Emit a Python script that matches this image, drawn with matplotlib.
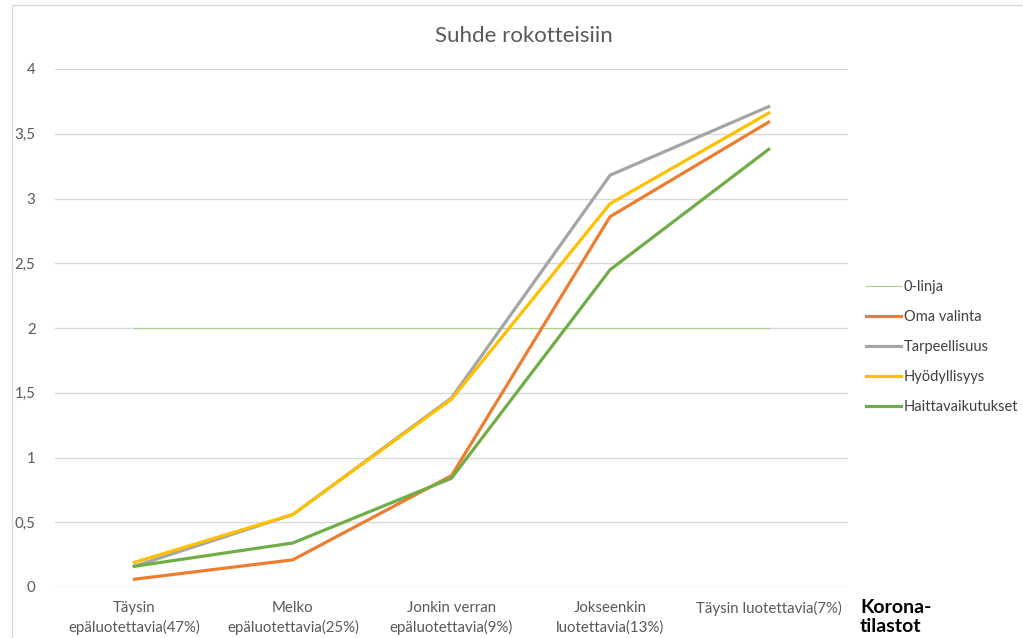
import matplotlib.pyplot as plt
from matplotlib.patches import Rectangle

plt.rcParams['font.family'] = ['Lato', 'DejaVu Sans']

categories = ['Täysin\nepäluotettavia(47%)', 'Melko\nepäluotettavia(25%)',
              'Jonkin verran\nepäluotettavia(9%)', 'Jokseenkin\nluotettavia(13%)',
              'Täysin luotettavia(7%)']
zero_line = [2, 2, 2, 2, 2]
oma_valinta = [0.06, 0.21, 0.86, 2.86, 3.59]
tarpeellisuus = [0.16, 0.56, 1.46, 3.18, 3.71]
hyodyllisyys = [0.19, 0.56, 1.45, 2.96, 3.66]
haittavaikutukset = [0.16, 0.34, 0.84, 2.45, 3.38]
y_ticks = [0, 0.5, 1, 1.5, 2, 2.5, 3, 3.5, 4]
y_labels = ['0', '0,5', '1', '1,5', '2', '2,5', '3', '3,5', '4']

fig = plt.figure(figsize=(10.23, 6.38), dpi=100)
ax = fig.add_axes([55 / 1023, 51 / 638, 793 / 1023, 518 / 638])

# outer chart border
fig.patches.append(Rectangle((12 / 1023, -0.01), 1.0, (633 / 638) + 0.01,
                             transform=fig.transFigure, fill=False,
                             edgecolor='#D9D9D9', linewidth=1))

x = range(len(categories))
ax.plot(x, zero_line, color='#A9D18E', linewidth=0.8, label='0-linja')
ax.plot(x, oma_valinta, color='#ED7D31', linewidth=2.3, label='Oma valinta')
ax.plot(x, tarpeellisuus, color='#A5A5A5', linewidth=2.3, label='Tarpeellisuus')
ax.plot(x, hyodyllisyys, color='#FFC000', linewidth=2.3, label='Hyödyllisyys')
ax.plot(x, haittavaikutukset, color='#70AD47', linewidth=2.3, label='Haittavaikutukset')

ax.set_xlim(-0.5, len(categories) - 0.5)
ax.set_ylim(0, 4)
ax.set_yticks(y_ticks)
ax.set_yticklabels(y_labels)
ax.set_xticks(list(x))
ax.set_xticklabels(categories, linespacing=1.45)
ax.tick_params(axis='both', length=0, labelsize=10.8, labelcolor='#595959')
ax.tick_params(axis='y', pad=14)
ax.tick_params(axis='x', pad=10)
ax.grid(axis='y', color='#D9D9D9', linewidth=1)
ax.set_axisbelow(True)
for s in ax.spines.values():
    s.set_visible(False)

fig.text(524 / 1023, 1 - 36 / 638, 'Suhde rokotteisiin', fontsize=16,
         color='#595959', ha='center', va='center')

fig.text(860 / 1023, 1 - 617 / 638, 'Korona-\ntilastot', fontsize=14,
         fontweight='bold', color='black', va='center', ha='left', linespacing=1.1)

ax.legend(loc='center left', bbox_to_anchor=((866 - 55) / 793, (587 - 347) / 518),
          borderaxespad=0, borderpad=0, frameon=False, fontsize=10.5,
          handlelength=2.4, handletextpad=0.2, labelspacing=1.1,
          labelcolor='#404040')

fig.savefig('out.png', dpi=100)
